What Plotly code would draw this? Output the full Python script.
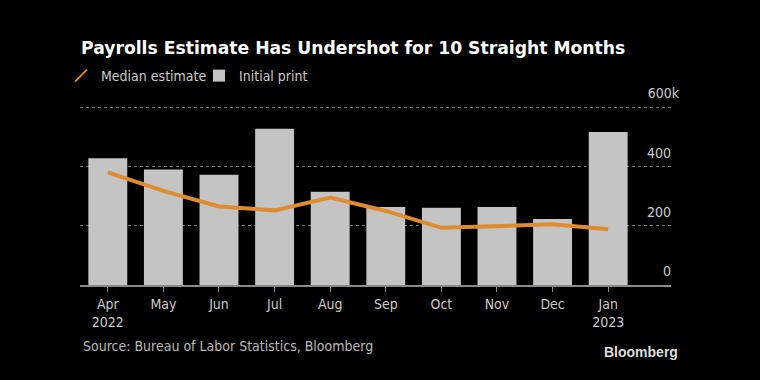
import plotly.graph_objects as go

months = ["Apr<br>2022", "May", "Jun", "Jul", "Aug", "Sep", "Oct", "Nov", "Dec", "Jan<br>2023"]
initial_print = [428, 390, 372, 528, 315, 263, 261, 263, 223, 517]
median_estimate = [380, 318, 265, 252, 295, 250, 193, 198, 205, 188]
y_ticks = [0, 200, 400, 600]
y_tick_labels = ["0\u2007", "200\u2007", "400\u2007", "600k"]

FONT = "Liberation Sans Narrow, DejaVu Sans Condensed, sans-serif"
ORANGE = "#e08c2e"
xs = list(range(len(months)))

fig = go.Figure()
fig.add_trace(go.Bar(
    x=xs, y=initial_print, name="Initial print", showlegend=False,
    marker=dict(color="#c4c4c4", line=dict(width=0)), width=0.7,
))
fig.add_trace(go.Scatter(
    x=xs, y=median_estimate, mode="lines", name="Median estimate", showlegend=False,
    line=dict(color=ORANGE, width=4),
))
# legend-only entries
fig.add_trace(go.Scatter(
    x=[None], y=[None], mode="markers", name="Median estimate",
    marker=dict(symbol="line-ne", size=11, color=ORANGE, line=dict(color=ORANGE, width=3)),
))
fig.add_trace(go.Scatter(
    x=[None], y=[None], mode="markers", name="Initial print",
    marker=dict(symbol="square", size=10, color="#c4c4c4", line=dict(width=0)),
))

fig.update_layout(
    width=760, height=380,
    paper_bgcolor="black", plot_bgcolor="black",
    margin=dict(l=80, r=89, t=70, b=95, autoexpand=False),
    showlegend=True,
    legend=dict(
        orientation="h", x=(61 - 80) / 591, xanchor="left",
        y=1 - 76 / 380, yanchor="middle", yref="container",
        font=dict(family=FONT, size=14, color="#cccccc"),
        bgcolor="rgba(0,0,0,0)", itemsizing="constant",
        entrywidth=93, entrywidthmode="pixels",
    ),
    title=dict(
        text="<b>Payrolls Estimate Has Undershot for 10 Straight Months</b>",
        x=81 / 760, xanchor="left", y=1 - 48 / 380, yanchor="middle",
        font=dict(family="DejaVu Sans, sans-serif", size=17.2, color="white"),
    ),
    font=dict(family=FONT, color="#cccccc"),
)

fig.update_xaxes(
    range=[-0.5, 10.13], tickmode="array", tickvals=xs, ticktext=months,
    showline=True, linecolor="#8a8a8a", linewidth=1.5,
    ticks="outside", ticklen=5, tickcolor="#8a8a8a",
    tickfont=dict(family=FONT, size=14, color="#cccccc"),
    showgrid=False, zeroline=False, automargin=False,
)
fig.update_yaxes(
    range=[0, 726], tickmode="array", tickvals=y_ticks, ticktext=y_tick_labels,
    side="right", ticklabelposition="inside top", ticklabelstandoff=-11,
    ticklabelshift=-4,
    showgrid=True, gridcolor="#777777", griddash="dot", gridwidth=1,
    tickfont=dict(family=FONT, size=14, color="#cccccc"),
    zeroline=False, showline=False, automargin=False,
)

fig.add_annotation(
    text="Source: Bureau of Labor Statistics, Bloomberg",
    xref="paper", yref="paper", x=(81 - 80) / 591, y=0, yshift=-61,
    xanchor="left", yanchor="middle", showarrow=False,
    font=dict(family=FONT, size=14, color="#bbbbbb"),
)
fig.add_annotation(
    text="<b>Bloomberg</b>",
    xref="paper", yref="paper", x=(680 - 80) / 591, y=0, yshift=-67,
    xanchor="right", yanchor="middle", showarrow=False,
    font=dict(family="Liberation Sans, Arial, sans-serif", size=14, color="#dddddd"),
)

fig.write_html(
    "out.html",
    config={"displayModeBar": False},
    post_script="document.body.style.margin='0';document.body.style.padding='0';document.body.style.background='black';",
)
